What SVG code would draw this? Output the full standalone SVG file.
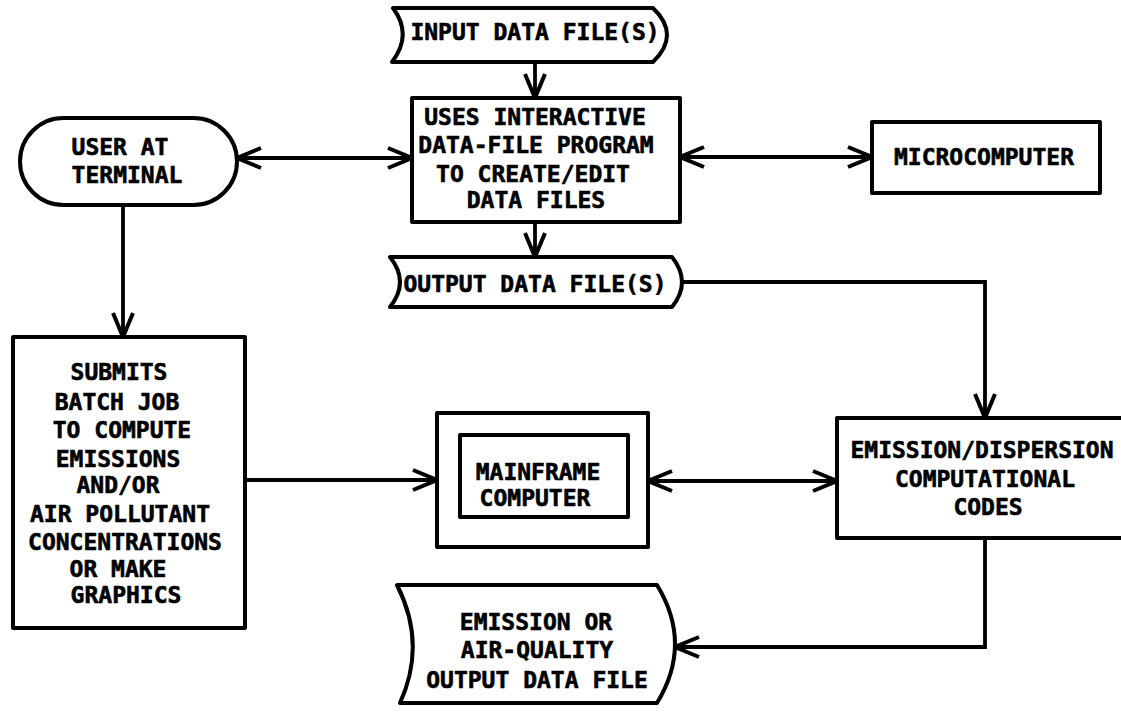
<svg xmlns="http://www.w3.org/2000/svg" width="1121" height="714" viewBox="0 0 1121 714">
<style>
.b{fill:#fff;stroke:#000;stroke-width:4;stroke-linejoin:round}
.c{fill:none;stroke:#000;stroke-width:3.8}
.t{font-family:"DejaVu Sans Mono","Liberation Mono",monospace;font-weight:bold;font-size:23px;fill:#000;stroke:#000;stroke-width:0.6;text-anchor:middle}
</style>
<defs>
<marker id="arr" viewBox="0 0 28 24" refX="25" refY="12" markerWidth="28" markerHeight="24" markerUnits="userSpaceOnUse" orient="auto-start-reverse">
<path d="M1,2 L25,12 L1,22" fill="none" stroke="#000" stroke-width="4"/>
</marker>
</defs>
<rect width="1121" height="714" fill="#fff"/>
<g id="connectors">
<line class="c" x1="535" y1="62" x2="535" y2="98" marker-end="url(#arr)"/>
<line class="c" x1="237" y1="158" x2="412" y2="158" marker-start="url(#arr)" marker-end="url(#arr)"/>
<line class="c" x1="680" y1="157" x2="872" y2="157" marker-start="url(#arr)" marker-end="url(#arr)"/>
<line class="c" x1="535" y1="222" x2="535" y2="257" marker-end="url(#arr)"/>
<line class="c" x1="123" y1="205" x2="123" y2="337" marker-end="url(#arr)"/>
<polyline class="c" points="682,282 985,282 985,418" marker-end="url(#arr)"/>
<line class="c" x1="245" y1="480" x2="437" y2="480" marker-end="url(#arr)"/>
<line class="c" x1="648" y1="481" x2="837" y2="481" marker-start="url(#arr)" marker-end="url(#arr)"/>
<polyline class="c" points="985,538 985,647 675,647" marker-end="url(#arr)"/>
</g>
<g id="input-file">
<path class="b" d="M393,8 L653,8 Q681,35 653,62 L392,62 Q413,35 393,8 Z"/>
<text class="t" x="535" y="40">INPUT DATA FILE(S)</text>
</g>
<g id="main-program">
<rect class="b" x="412" y="98" width="268" height="124"/>
<text class="t" x="535" y="125">USES INTERACTIVE</text>
<text class="t" x="536" y="153">DATA-FILE PROGRAM</text>
<text class="t" x="533" y="182">TO CREATE/EDIT</text>
<text class="t" x="536" y="208">DATA FILES</text>
</g>
<g id="user">
<rect class="b" x="20" y="118" width="217" height="87" rx="43.5" ry="43.5"/>
<text class="t" x="120" y="155">USER AT</text>
<text class="t" x="127" y="183">TERMINAL</text>
</g>
<g id="microcomputer">
<rect class="b" x="872" y="122" width="228" height="71"/>
<text class="t" x="984" y="165">MICROCOMPUTER</text>
</g>
<g id="output-files">
<path class="b" d="M390,257 L672,257 Q692,282 672,307 L390,307 Q410,282 390,257 Z"/>
<text class="t" x="535" y="292">OUTPUT DATA FILE(S)</text>
</g>
<g id="submits">
<rect class="b" x="13" y="337" width="232" height="291"/>
<text class="t" x="119" y="380">SUBMITS</text>
<text class="t" x="117" y="410">BATCH JOB</text>
<text class="t" x="122" y="438">TO COMPUTE</text>
<text class="t" x="118" y="467">EMISSIONS</text>
<text class="t" x="118" y="493">AND/OR</text>
<text class="t" x="120" y="522">AIR POLLUTANT</text>
<text class="t" x="125" y="550">CONCENTRATIONS</text>
<text class="t" x="118" y="577">OR MAKE</text>
<text class="t" x="126" y="603">GRAPHICS</text>
</g>
<g id="mainframe">
<rect class="b" x="437" y="413" width="211" height="134"/>
<rect class="b" x="460" y="435" width="168" height="82"/>
<text class="t" x="538" y="480">MAINFRAME</text>
<text class="t" x="535" y="506">COMPUTER</text>
</g>
<g id="codes">
<rect class="b" x="837" y="418" width="290" height="120"/>
<text class="t" x="982" y="458">EMISSION/DISPERSION</text>
<text class="t" x="985" y="487">COMPUTATIONAL</text>
<text class="t" x="988" y="515">CODES</text>
</g>
<g id="emission-output">
<path class="b" d="M397,585 L657,585 Q693,644 657,703 L400,703 Q427,644 397,585 Z"/>
<text class="t" x="536" y="630">EMISSION OR</text>
<text class="t" x="537" y="658">AIR-QUALITY</text>
<text class="t" x="537" y="688">OUTPUT DATA FILE</text>
</g>
</svg>
